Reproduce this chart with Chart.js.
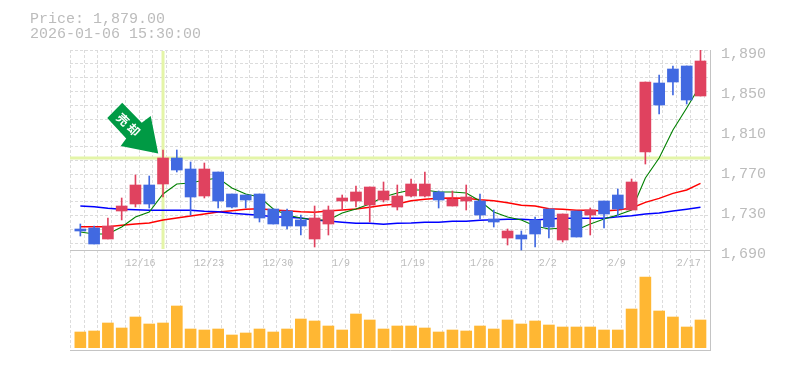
<!DOCTYPE html>
<html><head><meta charset="utf-8">
<style>html,body{margin:0;padding:0;background:#fff}#w{width:785px;height:370px}</style>
<script src="https://cdn.jsdelivr.net/npm/chart.js@4"></script>
</head><body><div id="w"><canvas id="c" width="785" height="370"></canvas></div>
<script>
const titleLines=["Price: 1,879.00","2026-01-06 15:30:00"];
const priceTicks=[1690,1730,1770,1810,1850,1890];
const dateLabels=["12/16","12/23","12/30","1/9","1/19","1/26","2/2","2/9","2/17"];
const open=[1714,1715,1704,1732,1739,1758,1759,1785,1774,1747,1771,1749,1748,1749,1734,1732,1723,1704,1719,1742,1742,1738,1743,1736,1747,1747,1751,1737,1742,1742,1724,1705,1708,1723,1734,1703,1732,1728,1742,1748,1733,1791,1860,1874,1877,1847];
const close=[1712,1699,1717,1737,1758,1739,1785,1773,1746,1774,1742,1736,1743,1725,1719,1717,1717,1725,1733,1745,1751,1756,1752,1747,1759,1759,1743,1744,1746,1728,1721,1712,1704,1709,1716,1729,1706,1733,1729,1734,1761,1861,1838,1861,1843,1882];
const high=[1719,1717,1725,1745,1768,1767,1793,1793,1781,1780,1771,1749,1748,1749,1734,1734,1728,1737,1737,1748,1757,1756,1761,1758,1764,1771,1752,1752,1758,1749,1733,1714,1712,1726,1734,1729,1732,1735,1742,1754,1764,1861,1868,1877,1877,1893];
const low=[1707,1699,1704,1723,1736,1735,1746,1771,1728,1745,1735,1735,1735,1721,1719,1714,1708,1696,1708,1733,1736,1721,1741,1733,1746,1746,1735,1737,1733,1724,1716,1698,1693,1696,1705,1701,1706,1708,1715,1726,1733,1779,1829,1848,1839,1847];
const maShort=[1711,1709,1709,1716,1726,1731,1749,1759,1760,1763,1765,1755,1749,1746,1734,1728,1725,1723,1723,1730,1734,1739,1746,1750,1753,1753,1751,1751,1750,1742,1731,1726,1723,1717,1714,1715,1713,1719,1724,1728,1733,1765,1785,1813,1835,1858];
const maMid=[1716.3,1716.3,1716.3,1717.7,1719,1720,1723,1725,1727,1729,1731,1732.3,1733.7,1734.3,1733,1732.3,1731.3,1730.7,1732,1733,1734,1735.7,1737.7,1739,1742.3,1743.7,1744.7,1745,1744.7,1743.3,1742.3,1740.3,1737.7,1737,1734.3,1733.7,1732.7,1732.7,1732,1733,1735,1740.7,1744.7,1749.7,1753,1759.7];
const maLong=[1737,1736.3,1734.7,1733.7,1733.3,1732.7,1732.7,1732.7,1732.7,1731.7,1731.3,1729.7,1728.7,1727.7,1726.3,1725.7,1725,1723,1722,1720.7,1719.7,1719.7,1718.7,1719.7,1720,1720.7,1720.7,1721.7,1721.7,1722.7,1723.3,1723.7,1723.7,1723,1724,1724.7,1724.7,1724.7,1724.7,1726.3,1727.3,1729,1730,1732,1733.7,1735.7];
const volume=[15.7,16.7,24.7,19.7,30.7,23.7,24.7,41.7,18.7,17.7,18.7,12.7,14.7,18.7,15.7,18.7,28.7,26.7,21.7,17.7,33.7,27.7,18.7,21.7,21.7,19.7,15.7,17.7,16.7,21.7,18.7,27.7,23.7,26.7,22.7,20.7,20.7,20.7,17.7,17.7,38.7,70.7,36.7,30.7,20.7,27.7];
const markIndex=6, markPrice=1785;
const RED='#e0425f',BLUE='#4169e1',ORANGE='#ffb733',CROSS='#e4f5a8',LINE='#c4c4c4',GRID='#dcdcdc',TEXT='#bcbcbc';
const MONO='"Liberation Mono", monospace';
const XMIN=-0.75,XMAX=45.69,YTOP=1893,YBOT=1593,GRID_OFF=0.73;
const idx=open.map((_,i)=>i);
const candleColors=idx.map(i=>close[i]>=open[i]?RED:BLUE);
const series=a=>a.map((y,x)=>({x,y}));
const zero=s=>{s.height=0};
const arrow={id:'arrow',afterDatasetsDraw(ch){
  const c=ch.ctx,tx=ch.scales.x.getPixelForValue(markIndex)-4.8,ty=ch.scales.y.getPixelForValue(markPrice)-4.5;
  const poly=[[0,0],[-37.5,-7.5],[-32,-15],[-51,-35.5],[-36,-50.7],[-16.5,-30.7],[-7.5,-37.5]];
  c.save();c.fillStyle='#009a44';c.beginPath();poly.forEach((p,i)=>i?c.lineTo(tx+p[0],ty+p[1]):c.moveTo(tx+p[0],ty+p[1]));c.closePath();c.fill();
  c.translate(tx-29.5,ty-28.5);c.rotate(Math.PI*0.24);c.fillStyle='#fff';c.font='bold 12px "Noto Sans CJK JP"';c.textAlign='center';c.textBaseline='middle';
  c.letterSpacing='3px';c.fillText('売却',1,0);c.restore();
}};
new Chart(document.getElementById('c'),{
  data:{datasets:[
    {type:'line',data:[{x:XMIN,y:markPrice},{x:XMAX,y:markPrice}],borderColor:CROSS,borderWidth:3,pointRadius:0,order:10,xAxisID:'x',yAxisID:'y'},
    {type:'line',data:[{x:markIndex,y:1892},{x:markIndex,y:1694}],borderColor:CROSS,borderWidth:3,pointRadius:0,order:10,xAxisID:'x',yAxisID:'y'},
    {type:'bar',data:series(volume),backgroundColor:ORANGE,barThickness:11,grouped:false,order:9,xAxisID:'x',yAxisID:'yv'},
    {type:'line',data:series(maLong),borderColor:'#0000ff',borderWidth:1.4,pointRadius:0,tension:0,order:6,xAxisID:'x',yAxisID:'y'},
    {type:'line',data:series(maMid),borderColor:'#ff0000',borderWidth:1.4,pointRadius:0,tension:0,order:6,xAxisID:'x',yAxisID:'y'},
    {type:'line',data:series(maShort),borderColor:'#008000',borderWidth:1.1,pointRadius:0,tension:0,order:5,xAxisID:'x',yAxisID:'y'},
    {type:'bar',data:idx.map(i=>({x:i,y:[low[i],high[i]]})),backgroundColor:candleColors,barThickness:1,grouped:false,order:3,xAxisID:'x',yAxisID:'y'},
    {type:'bar',data:idx.map(i=>({x:i,y:[open[i],close[i]]})),backgroundColor:candleColors,barThickness:11,grouped:false,order:2,xAxisID:'x',yAxisID:'y'}
  ]},
  options:{
    responsive:false,animation:false,events:[],
    layout:{padding:{left:30,right:0,top:0,bottom:20}},
    plugins:{legend:{display:false},tooltip:{enabled:false},
      title:{display:true,text:titleLines,align:'start',color:TEXT,font:{family:MONO,size:15,weight:'normal',lineHeight:1},padding:{top:12,bottom:8}}},
    scales:{
      x:{type:'linear',offset:false,min:XMIN,max:XMAX,position:'bottom',afterFit:zero,
        afterBuildTicks:s=>{s.ticks=Array.from({length:47},(_,k)=>({value:k-GRID_OFF}))},
        ticks:{display:false},
        grid:{offset:false,color:GRID,lineWidth:1,drawTicks:false},
        border:{display:true,color:LINE,width:1,dash:[3,2]}},
      xl:{type:'linear',offset:false,min:XMIN,max:XMAX,position:{y:YTOP-200},afterFit:zero,
        afterBuildTicks:s=>{s.ticks=dateLabels.map((_,n)=>({value:4+5*n-GRID_OFF}))},
        ticks:{color:TEXT,font:{family:MONO,size:10},align:'start',padding:7,maxRotation:0,autoSkip:false,
          callback:(v,i)=>dateLabels[i]},
        grid:{display:false,drawTicks:false},
        border:{display:true,color:LINE,width:1}},
      y:{type:'linear',position:'right',min:YBOT,max:YTOP,
        afterBuildTicks:s=>{s.ticks=priceTicks.map(value=>({value}))},
        afterFit:s=>{s.width=75},
        ticks:{color:TEXT,font:{family:MONO,size:15},padding:11,labelOffset:1,autoSkip:false,
          callback:v=>v.toLocaleString('en-US')},
        grid:{display:false,drawTicks:false},
        border:{display:true,color:LINE,width:1}},
      yg:{type:'linear',position:'left',min:0,max:300,reverse:true,
        afterBuildTicks:s=>{s.ticks=Array.from({length:15},(_,k)=>({value:k*13.8}))},
        afterFit:s=>{s.width=40},
        ticks:{display:false},
        grid:{color:GRID,lineWidth:1,drawTicks:false},
        border:{display:false,dash:[3,2]}},
      yv:{type:'linear',display:false,min:-2.3,max:297.7}
    }
  },
  plugins:[arrow]
});
</script></body></html>
